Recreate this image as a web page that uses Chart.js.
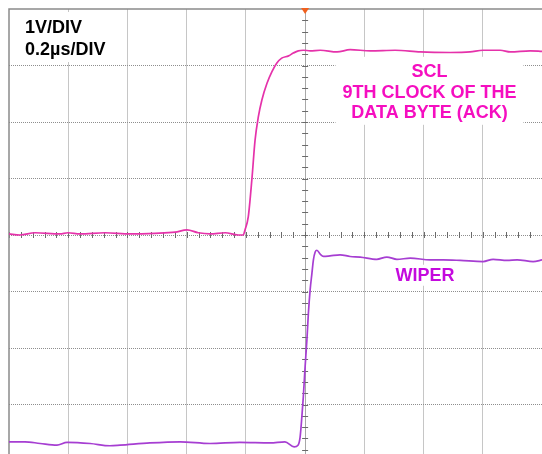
<!DOCTYPE html>
<html>
<head>
<meta charset="utf-8">
<script src="https://cdn.jsdelivr.net/npm/chart.js@4.4.0/dist/chart.umd.min.js"></script>
<style>
html, body { margin: 0; padding: 0; background: #fff; overflow: hidden; }
#wrap { width: 542px; height: 454px; position: relative; }
</style>
</head>
<body>
<div id="wrap"><canvas id="scope"></canvas></div>
<script>
// Time in ns relative to trigger (0.2us/DIV), level in V (1V/DIV)
var timeTicks = [-1000, -800, -600, -400, -200, 0, 200, 400, 600, 800];
var voltTicks = [-3, -2, -1, 0, 1, 2, 3, 4];

var sclTime = [-1000, -963, -912, -828, -801, -760, -676, -591, -507, -439,
    -399, -361, -321, -270, -226, -209, -203, -192, -180, -169,
    -158, -146, -129, -112, -96, -79, -56, -40, -23, -6,
    17, 51, 108, 152, 220, 304, 389, 490, 557, 601,
    659, 693, 760, 801];
var sclVolts = [0.02, 0.0, 0.04, 0.02, 0.04, 0.02, 0.04, 0.02, 0.03, 0.05,
    0.09, 0.04, 0.02, 0.04, 0.0, 0.0, 0.09, 0.32, 0.97, 1.68,
    2.09, 2.39, 2.68, 2.89, 3.04, 3.13, 3.17, 3.22, 3.26, 3.27,
    3.26, 3.27, 3.24, 3.28, 3.26, 3.27, 3.24, 3.23, 3.24, 3.27,
    3.27, 3.24, 3.26, 3.25];

var wiperTime = [-1000, -946, -895, -838, -804, -726, -659, -625, -524, -422,
    -321, -220, -118, -68, -37, -24, -17, -11, -6, 0,
    6, 11, 17, 23, 28, 34, 40, 51, 62, 84,
    118, 152, 186, 242, 276, 310, 355, 422, 466, 524,
    601, 635, 682, 716, 770, 801];
var wiperVolts = [-3.66, -3.66, -3.69, -3.72, -3.67, -3.69, -3.73, -3.72, -3.68, -3.66,
    -3.69, -3.67, -3.68, -3.66, -3.75, -3.72, -3.58, -3.22, -2.86, -2.33,
    -1.86, -1.39, -0.97, -0.68, -0.44, -0.30, -0.27, -0.34, -0.38, -0.37,
    -0.35, -0.38, -0.39, -0.43, -0.39, -0.43, -0.41, -0.44, -0.44, -0.45,
    -0.47, -0.43, -0.45, -0.44, -0.47, -0.44];

var scaleText = ['1V/DIV', '0.2\u00b5s/DIV'];
var sclText = ['SCL', '9TH CLOCK OF THE', 'DATA BYTE (ACK)'];
var wiperText = ['WIPER'];

var SCL_COLOR = '#e532aa';
var SCL_TEXT = '#f50ec0';
var WIPER_COLOR = '#a63ed2';
var WIPER_TEXT = '#c40ade';
var FONT = 'bold 18px "Liberation Sans", Arial, sans-serif';

function toPoints(xs, ys) {
    var out = [];
    for (var i = 0; i < xs.length; i++) out.push({ x: xs[i], y: ys[i] });
    return out;
}

// Borders, minor ticks on centre axes, label boxes and trigger mark
var scopeDecor = {
    id: 'scopeDecor',
    beforeDatasetsDraw: function(chart) {
        var c = chart.ctx, a = chart.chartArea;
        var xs = chart.scales.x, ys = chart.scales.y;
        var cx = xs.getPixelForValue(0), cy = ys.getPixelForValue(0);
        c.save();

        // minor ticks every 0.2 div
        c.strokeStyle = '#6a6a6a';
        c.lineWidth = 1;
        c.beginPath();
        for (var t = -1000; t <= 800; t += 40) {
            var px = Math.round(xs.getPixelForValue(t)) + 0.5;
            c.moveTo(px, cy - 3); c.lineTo(px, cy + 3);
        }
        for (var v = -3.8; v <= 4; v += 0.2) {
            var py = Math.round(ys.getPixelForValue(v)) + 0.5;
            c.moveTo(cx - 3, py); c.lineTo(cx + 3, py);
        }
        c.stroke();

        // top and left frame
        c.strokeStyle = '#8a8a8a';
        c.lineWidth = 1.5;
        c.beginPath();
        c.moveTo(a.left, a.bottom); c.lineTo(a.left, a.top); c.lineTo(a.right, a.top);
        c.stroke();

        c.font = FONT;
        c.textBaseline = 'alphabetic';

        // scale text, top left
        c.fillStyle = '#fff';
        c.fillRect(a.left + 2, a.top + 3, 100, 50);
        c.fillStyle = '#000';
        c.textAlign = 'left';
        c.fillText(scaleText[0], a.left + 16, a.top + 24);
        c.fillText(scaleText[1], a.left + 16, a.top + 46);

        // SCL label
        var sx = xs.getPixelForValue(420), sy = ys.getPixelForValue(2.8);
        c.fillStyle = '#fff';
        c.fillRect(sx - 94, sy - 20, 188, 68);
        c.fillStyle = SCL_TEXT;
        c.textAlign = 'center';
        for (var i = 0; i < sclText.length; i++) {
            c.fillText(sclText[i], sx, sy + i * 20.8);
        }

        // WIPER label
        var wx = xs.getPixelForValue(405), wy = ys.getPixelForValue(-0.81);
        c.fillStyle = '#fff';
        c.fillRect(wx - 28, wy - 16, 56, 21);
        c.fillStyle = WIPER_TEXT;
        c.fillText(wiperText[0], wx, wy);
        c.restore();
    },
    afterDatasetsDraw: function(chart) {
        var c = chart.ctx, a = chart.chartArea;
        var cx = chart.scales.x.getPixelForValue(0);
        c.save();
        c.fillStyle = '#f0601e';
        c.beginPath();
        c.moveTo(cx - 4, a.top - 1); c.lineTo(cx + 4, a.top - 1); c.lineTo(cx, a.top + 5);
        c.closePath();
        c.fill();
        c.restore();
    }
};

new Chart(document.getElementById('scope'), {
    type: 'scatter',
    data: {
        datasets: [
            {
                label: 'SCL',
                data: toPoints(sclTime, sclVolts),
                showLine: true,
                borderColor: SCL_COLOR,
                borderWidth: 1.7,
                pointRadius: 0,
                cubicInterpolationMode: 'monotone'
            },
            {
                label: 'WIPER',
                data: toPoints(wiperTime, wiperVolts),
                showLine: true,
                borderColor: WIPER_COLOR,
                borderWidth: 1.7,
                pointRadius: 0,
                cubicInterpolationMode: 'monotone'
            }
        ]
    },
    options: {
        responsive: true,
        maintainAspectRatio: false,
        animation: false,
        events: [],
        layout: { padding: { left: 9, top: 9, right: 0, bottom: 0 } },
        plugins: {
            legend: { display: false },
            tooltip: { enabled: false }
        },
        scales: {
            x: {
                type: 'linear',
                min: -1000,
                max: 800,
                afterBuildTicks: function(axis) {
                    axis.ticks = timeTicks.map(function(v) { return { value: v }; });
                },
                ticks: { display: false },
                border: { display: false },
                grid: {
                    drawTicks: false,
                    lineWidth: 1,
                    color: function(ctx) {
                        if (ctx.tick && ctx.tick.value === -1000) return 'rgba(0,0,0,0)';
                        if (ctx.tick && ctx.tick.value === 0) return '#a8a8a8';
                        return '#c6c6c6';
                    }
                }
            },
            y: {
                type: 'linear',
                min: -3.876,
                max: 4,
                afterBuildTicks: function(axis) {
                    axis.ticks = voltTicks.map(function(v) { return { value: v }; });
                },
                ticks: { display: false },
                border: { display: false, dash: [1, 1] },
                grid: {
                    drawTicks: false,
                    lineWidth: 1,
                    color: function(ctx) {
                        if (ctx.tick && ctx.tick.value === 4) return 'rgba(0,0,0,0)';
                        return '#8e8e8e';
                    }
                }
            }
        }
    },
    plugins: [scopeDecor]
});
</script>
</body>
</html>
